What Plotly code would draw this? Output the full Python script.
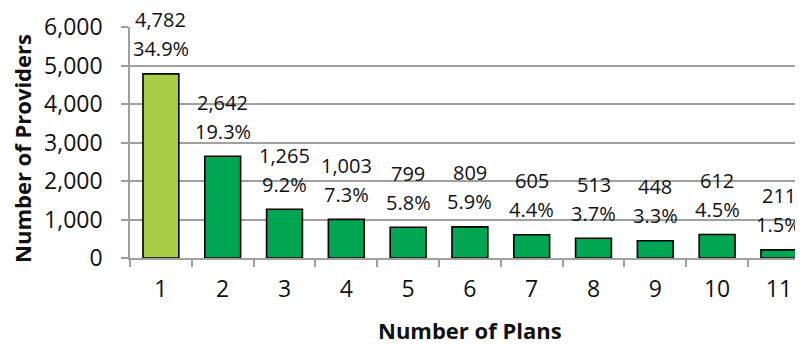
import plotly.graph_objects as go

plans = [1, 2, 3, 4, 5, 6, 7, 8, 9, 10, 11]
providers = [4782, 2642, 1265, 1003, 799, 809, 605, 513, 448, 612, 211]
percents = ["34.9%", "19.3%", "9.2%", "7.3%", "5.8%", "5.9%", "4.4%", "3.7%", "3.3%", "4.5%", "1.5%"]
y_ticks = [0, 1000, 2000, 3000, 4000, 5000, 6000]

LIGHT = "#A9CE45"
DARK = "#00A651"
GRID = "#A0A0A0"
FONT = "Open Sans"
TXT = "#111111"

colors = [LIGHT] + [DARK] * (len(plans) - 1)

fig = go.Figure()
fig.add_trace(go.Bar(
    x=plans, y=providers, width=0.58,
    marker=dict(color=colors, line=dict(color="black", width=1.6)),
    hoverinfo="skip",
))

for x, v, p in zip(plans, providers, percents):
    fig.add_annotation(x=x, y=v, text=f"{v:,}", showarrow=False,
                       yanchor="middle", yshift=54,
                       font=dict(family=FONT, size=20, color=TXT))
    fig.add_annotation(x=x, y=v, text=p, showarrow=False,
                       yanchor="middle", yshift=25,
                       font=dict(family=FONT, size=20, color=TXT))

# axis titles
fig.add_annotation(xref="paper", yref="paper", x=0.505, y=0, yanchor="middle",
                   yshift=-72, text="<b>Number of Plans</b>", showarrow=False,
                   font=dict(family=FONT, size=22, color=TXT))
fig.add_annotation(xref="paper", yref="paper", x=0, y=0.472, xanchor="center",
                   yanchor="middle", xshift=-108, textangle=-90,
                   text="<b>Number of Providers</b>", showarrow=False,
                   font=dict(family=FONT, size=22, color=TXT))

fig.update_layout(
    width=795, height=337,
    margin=dict(l=122, r=0, t=19, b=87),
    paper_bgcolor="white", plot_bgcolor="white",
    showlegend=False,
    font=dict(family=FONT, size=22, color=TXT),
)

fig.update_xaxes(
    range=[0.5, 11.39],
    tickmode="array", tickvals=plans, ticktext=[str(p) for p in plans],
    ticks="", showgrid=False,
    showline=True, linecolor=GRID, linewidth=1.5,
    tickfont=dict(family=FONT, size=23, color=TXT),
    ticklabelstandoff=10,
    minor=dict(tickvals=[p - 0.5 for p in plans], ticks="outside", ticklen=7,
               tickcolor=GRID, tickwidth=1.5, showgrid=False),
    zeroline=False,
)

fig.update_yaxes(
    range=[0, 6000],
    tickmode="array", tickvals=y_ticks, tickformat=",",
    ticks="outside", ticklen=7, tickcolor=GRID, tickwidth=1.5,
    showgrid=True, gridcolor=GRID, gridwidth=1.5,
    showline=True, linecolor=GRID, linewidth=1.5,
    zeroline=False,
    tickfont=dict(family=FONT, size=23, color=TXT),
    ticklabelstandoff=14,
)

fig.write_html("out.html")
